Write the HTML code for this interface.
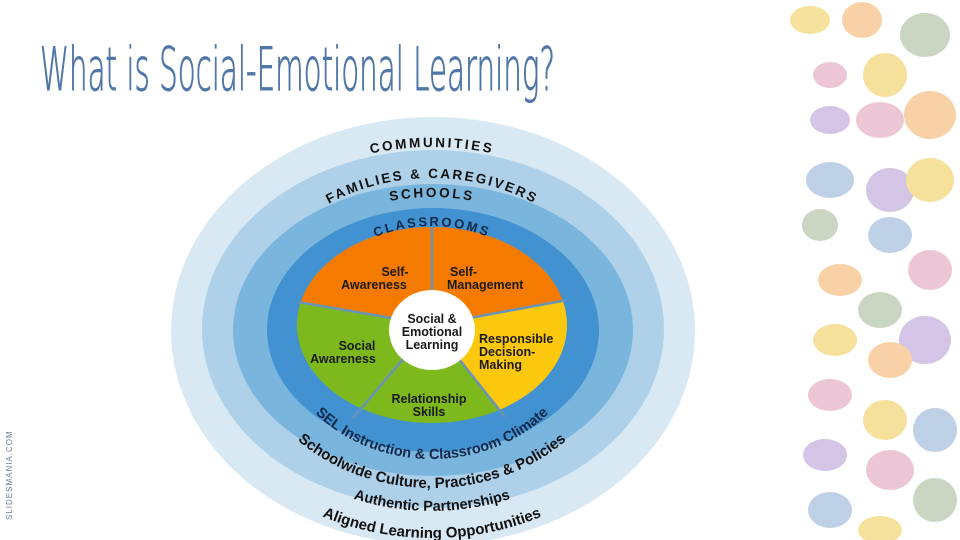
<!DOCTYPE html>
<html><head><meta charset="utf-8"><style>
html,body{margin:0;padding:0;background:#fff;}
body{width:960px;height:540px;overflow:hidden;position:relative;font-family:"Liberation Sans",sans-serif;}
</style></head><body>
<svg width="960" height="540" viewBox="0 0 960 540" xmlns="http://www.w3.org/2000/svg" style="position:absolute;left:0;top:0">
<defs>
<path id="tCom" d="M202,330 A230,183 0 0 1 662,330"/>
<path id="tFam" d="M247,330 A185,152 0 0 1 617,330"/>
<path id="tSch" d="M262,330 A170,133 0 0 1 602,330"/>
<path id="tCla" d="M307,330 A125,104 0 0 1 557,330"/>
<path id="bSel" d="M277,325 A155,134 0 0 0 587,325"/>
<path id="bSch" d="M242,325 A190,163 0 0 0 622,325"/>
<path id="bAut" d="M212,325 A220,186 0 0 0 652,325"/>
<path id="bAli" d="M182,325 A250,213 0 0 0 682,325"/>
<clipPath id="pie"><ellipse cx="432" cy="325" rx="135" ry="98"/></clipPath>
</defs>
<text x="40" y="90" textLength="515" lengthAdjust="spacingAndGlyphs" font-family="DejaVu Sans, Liberation Sans, sans-serif" font-weight="200" font-size="60" fill="#5077a8" stroke="#5077a8" stroke-width="1">What is Social-Emotional Learning?</text>
<text transform="translate(12,520) rotate(-90)" font-size="8" letter-spacing="1" fill="#6a7f99">SLIDESMANIA.COM</text>

<ellipse cx="433" cy="331" rx="262" ry="214" fill="#d8e9f4"/>
<ellipse cx="433" cy="329" rx="231" ry="179" fill="#aed1e9"/>
<ellipse cx="433" cy="330" rx="200" ry="146" fill="#7ab5de"/>
<ellipse cx="433" cy="330" rx="166" ry="122" fill="#4291d0"/>

<g clip-path="url(#pie)">
<polygon points="432,325 432,180 231,290" fill="#f47b00"/>
<polygon points="432,325 432,180 634,287" fill="#f47b00"/>
<polygon points="432,325 634,287 549,472" fill="#fcc80d"/>
<polygon points="432,325 549,472 306,474" fill="#7db91c"/>
<polygon points="432,325 306,474 231,290" fill="#7db91c"/>
</g>
<g stroke="#6a93b8" stroke-width="2.5">
<line x1="432" y1="325" x2="432" y2="227"/>
<line x1="432" y1="325" x2="298" y2="302"/>
<line x1="432" y1="325" x2="567" y2="300"/>
<line x1="432" y1="325" x2="353" y2="418"/>
<line x1="432" y1="325" x2="505" y2="417"/>
</g>
<ellipse cx="432" cy="330" rx="43" ry="40" fill="#fff"/>

<g font-weight="bold" font-size="12.5" fill="#1a1a1a" text-anchor="middle">
<text x="432" y="323">Social &amp;</text>
<text x="432" y="336">Emotional</text>
<text x="432" y="349">Learning</text>
<text x="395" y="276">Self-</text>
<text x="374" y="289">Awareness</text>
<text x="450" y="276" text-anchor="start">Self-</text>
<text x="447" y="289" text-anchor="start">Management</text>
<text x="357" y="350">Social</text>
<text x="343" y="363">Awareness</text>
<text x="479" y="343" text-anchor="start">Responsible</text>
<text x="479" y="356" text-anchor="start">Decision-</text>
<text x="479" y="369" text-anchor="start">Making</text>
<text x="429" y="403">Relationship</text>
<text x="429" y="416">Skills</text>
</g>

<g font-weight="bold" fill="#111" text-anchor="middle">
<text font-size="13.5" letter-spacing="2.5"><textPath href="#tCom" startOffset="50%">COMMUNITIES</textPath></text>
<text font-size="13.5" letter-spacing="2.2"><textPath href="#tFam" startOffset="50%">FAMILIES &amp; CAREGIVERS</textPath></text>
<text font-size="13.5" letter-spacing="2.5"><textPath href="#tSch" startOffset="50%">SCHOOLS</textPath></text>
<text font-size="13" letter-spacing="2.3" fill="#12284a"><textPath href="#tCla" startOffset="50%">CLASSROOMS</textPath></text>
<text font-size="14.5" fill="#12284a"><textPath href="#bSel" startOffset="50%">SEL Instruction &amp; Classroom Climate</textPath></text>
<text font-size="15"><textPath href="#bSch" startOffset="50%">Schoolwide Culture, Practices &amp; Policies</textPath></text>
<text font-size="14.5"><textPath href="#bAut" startOffset="50%">Authentic Partnerships</textPath></text>
<text font-size="15"><textPath href="#bAli" startOffset="50%">Aligned Learning Opportunities</textPath></text>
</g>

<g opacity="0.75">
<ellipse cx="810" cy="20" rx="20" ry="14" fill="#f2d77a"/>
<ellipse cx="862" cy="20" rx="20" ry="18" fill="#f7c28a"/>
<ellipse cx="925" cy="35" rx="25" ry="22" fill="#b9c9ad"/>
<ellipse cx="830" cy="75" rx="17" ry="13" fill="#e6b3c8"/>
<ellipse cx="885" cy="75" rx="22" ry="22" fill="#f2d77a"/>
<ellipse cx="930" cy="115" rx="26" ry="24" fill="#f7c28a"/>
<ellipse cx="830" cy="120" rx="20" ry="14" fill="#c6b1dd"/>
<ellipse cx="880" cy="120" rx="24" ry="18" fill="#e6b3c8"/>
<ellipse cx="830" cy="180" rx="24" ry="18" fill="#a9c1de"/>
<ellipse cx="890" cy="190" rx="24" ry="22" fill="#c6b1dd"/>
<ellipse cx="930" cy="180" rx="24" ry="22" fill="#f2d77a"/>
<ellipse cx="820" cy="225" rx="18" ry="16" fill="#b9c9ad"/>
<ellipse cx="890" cy="235" rx="22" ry="18" fill="#a9c1de"/>
<ellipse cx="930" cy="270" rx="22" ry="20" fill="#e6b3c8"/>
<ellipse cx="840" cy="280" rx="22" ry="16" fill="#f7c28a"/>
<ellipse cx="880" cy="310" rx="22" ry="18" fill="#b9c9ad"/>
<ellipse cx="835" cy="340" rx="22" ry="16" fill="#f2d77a"/>
<ellipse cx="925" cy="340" rx="26" ry="24" fill="#c6b1dd"/>
<ellipse cx="890" cy="360" rx="22" ry="18" fill="#f7c28a"/>
<ellipse cx="830" cy="395" rx="22" ry="16" fill="#e6b3c8"/>
<ellipse cx="885" cy="420" rx="22" ry="20" fill="#f2d77a"/>
<ellipse cx="935" cy="430" rx="22" ry="22" fill="#a9c1de"/>
<ellipse cx="825" cy="455" rx="22" ry="16" fill="#c6b1dd"/>
<ellipse cx="890" cy="470" rx="24" ry="20" fill="#e6b3c8"/>
<ellipse cx="935" cy="500" rx="22" ry="22" fill="#b9c9ad"/>
<ellipse cx="830" cy="510" rx="22" ry="18" fill="#a9c1de"/>
<ellipse cx="880" cy="530" rx="22" ry="14" fill="#f2d77a"/>
</g>
</svg>
</body></html>
